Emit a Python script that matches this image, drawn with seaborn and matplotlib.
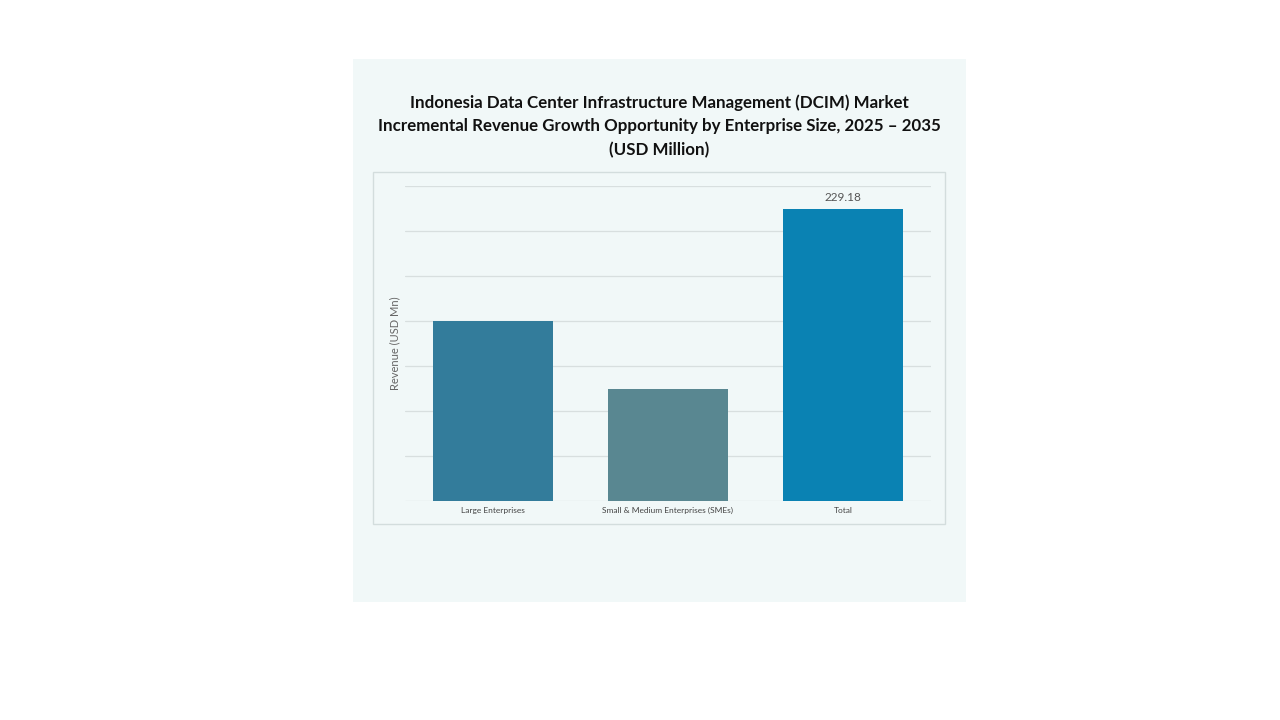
import matplotlib.pyplot as plt
import seaborn as sns
import pandas as pd
from matplotlib.patches import Rectangle

categories = ['Large Enterprises', 'Small & Medium Enterprises (SMEs)', 'Total']
revenue = [141.3, 87.9, 229.18]
bar_colors = ['#337c9b', '#598791', '#0a82b3']
grid_step = 35.32

df = pd.DataFrame({'segment': categories, 'revenue': revenue})

sns.set_theme(style='white')
plt.rcParams['font.family'] = ['Lato', 'DejaVu Sans']

fig = plt.figure(figsize=(12.8, 7.2), dpi=100)
fig.patch.set_facecolor('white')

# light panel behind chart
fig.patches.append(Rectangle((353/1280, 1-602/720), 613/1280, 543/720,
                             transform=fig.transFigure, facecolor='#f1f8f8',
                             edgecolor='none', zorder=0))
# plot area box
fig.patches.append(Rectangle((373/1280, 1-524/720), 572/1280, 352/720,
                             transform=fig.transFigure, facecolor='none',
                             edgecolor='#d3dddd', linewidth=1, zorder=1))

ax = fig.add_axes([405/1280, 1-501/720, 526/1280, 315/720])
ax.set_zorder(5)
ax.set_facecolor('none')
sns.barplot(data=df, x='segment', y='revenue', hue='segment',
            palette=dict(zip(categories, bar_colors)), legend=False,
            width=0.686, saturation=1, linewidth=0, ax=ax, zorder=3)

ax.set_xlim(-0.503, 2.503)
ax.set_ylim(0, grid_step*7)
ax.set_yticks([grid_step*i for i in range(8)])
ax.set_yticklabels([])
ax.set_axisbelow(True)
ax.yaxis.grid(True, color='#d8dfdf', linewidth=0.9)
ax.tick_params(axis='both', length=0)
ax.tick_params(axis='x', labelsize=6, colors='#444444', pad=4)
for s in ax.spines.values():
    s.set_visible(False)
ax.set_xlabel('')
ax.set_ylabel('Revenue (USD Mn)', fontsize=8, color='#666666', labelpad=0)

ax.text(2, revenue[2] + 5, f'{revenue[2]:.2f}', ha='center', va='bottom',
        fontsize=8.5, color='#555555')

fig.text(659/1280, 1-94/720,
         'Indonesia Data Center Infrastructure Management (DCIM) Market\n'
         'Incremental Revenue Growth Opportunity by Enterprise Size, 2025 \u2013 2035\n'
         '(USD Million)',
         ha='center', va='top', fontsize=12.2, fontweight='bold',
         color='#111111', linespacing=1.6)

fig.savefig('out.png', dpi=100)
